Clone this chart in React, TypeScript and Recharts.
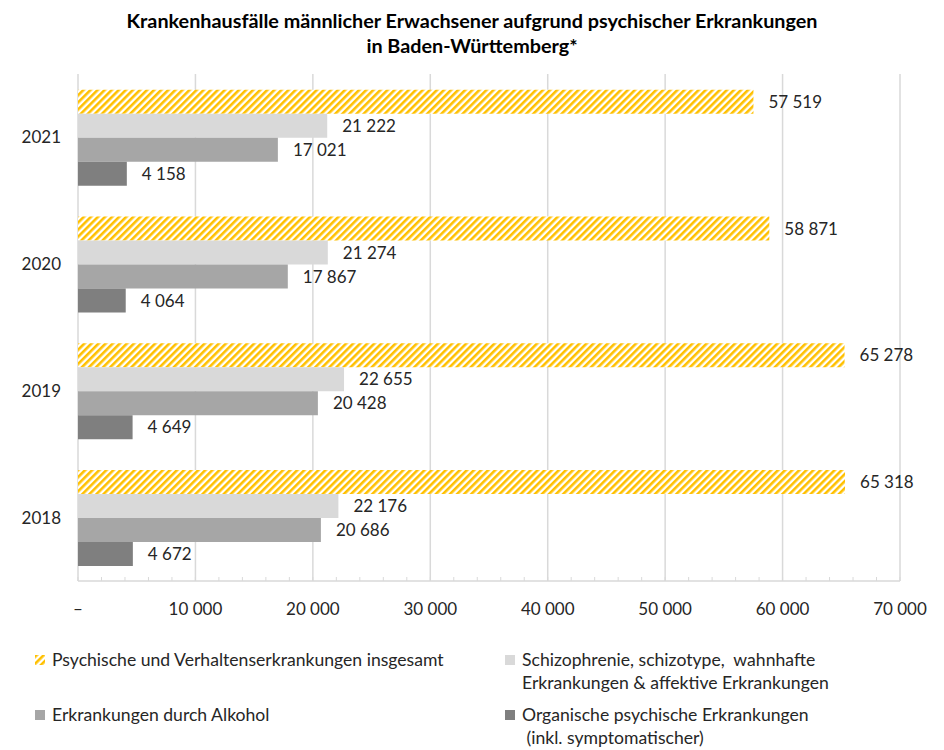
import React from "react";
import { BarChart, Bar, XAxis, YAxis, CartesianGrid, LabelList } from "recharts";

const years = ["2021", "2020", "2019", "2018"];
const insgesamt = [57519, 58871, 65278, 65318];
const schizo = [21222, 21274, 22655, 22176];
const alkohol = [17021, 17867, 20428, 20686];
const organisch = [4158, 4064, 4649, 4672];

const seriesNames = [
  "Psychische und Verhaltenserkrankungen insgesamt",
  "Schizophrenie, schizotype,  wahnhafte\nErkrankungen & affektive Erkrankungen",
  "Erkrankungen durch Alkohol",
  "Organische psychische Erkrankungen\n (inkl. symptomatischer)",
];

const xMax = 70000;
const majorStep = 10000;
const minorStep = 2000;
const xTicks: number[] = [];
for (let v = 0; v <= xMax; v += minorStep) xTicks.push(v);

const data = years.map((y, i) => ({
  year: y,
  insgesamt: insgesamt[i],
  schizo: schizo[i],
  alkohol: alkohol[i],
  organisch: organisch[i],
}));

const FONT = "Lato, 'Open Sans', sans-serif";
const TEXT = "#262626";
const YELLOW = "#ffc000";
const LIGHT = "#d9d9d9";
const MID = "#a6a6a6";
const DARK = "#7f7f7f";

const fmt = (v: any) => String(v).replace(/\B(?=(\d{3})+(?!\d))/g, " ");
const tickFmt = (v: number) => (v % majorStep === 0 ? (v === 0 ? "–" : fmt(v)) : "");

const gridLine = (props: any) => {
  if (props.index % (majorStep / minorStep) !== 0) return <g key={props.key} />;
  return (
    <line
      key={props.key}
      x1={props.x1}
      x2={props.x2}
      y1={props.y1}
      y2={props.y2}
      stroke={LIGHT}
      strokeWidth={1.5}
    />
  );
};

const HatchIcon = () => (
  <svg width={10} height={10} style={{ display: "block" }}>
    <defs>
      <pattern id="hatchIcon" patternUnits="userSpaceOnUse" width={5} height={5} patternTransform="rotate(45)">
        <rect width={5} height={5} fill="#fff" />
        <rect width={2.6} height={5} fill={YELLOW} />
      </pattern>
    </defs>
    <rect width={10} height={10} fill="url(#hatchIcon)" />
  </svg>
);

const Box = ({ color }: { color: string }) => (
  <div style={{ width: 10, height: 10, background: color }} />
);

const LegendItem = ({ left, top, icon, text }: { left: number; top: number; icon: React.ReactNode; text: string }) => (
  <div style={{ position: "absolute", left, top, display: "flex", alignItems: "flex-start" }}>
    <div style={{ marginTop: 7, width: 17 }}>{icon}</div>
    <div style={{ whiteSpace: "pre", fontSize: 17.6, lineHeight: "23px", color: TEXT }}>{text}</div>
  </div>
);

export default function App() {
  return (
    <div style={{ position: "relative", width: 928, height: 742, fontFamily: FONT, background: "#fff" }}>
      <div
        style={{
          position: "absolute",
          left: 0,
          top: 0,
          width: 928,
          textAlign: "center",
          fontWeight: 700,
          fontSize: 19.8,
          lineHeight: "25px",
          color: "#000",
        }}
      >
        Krankenhausfälle männlicher Erwachsener aufgrund psychischer Erkrankungen
        <br />
        in Baden-Württemberg*
      </div>
      <div style={{ position: "absolute", left: 0, top: 0 }}>
        <BarChart
          width={928}
          height={620}
          data={data}
          layout="vertical"
          margin={{ top: 66, right: 36, bottom: 7, left: 10 }}
          barCategoryGap="12.5%"
          barGap={0}
        >
          <defs>
            <pattern id="hatch" patternUnits="userSpaceOnUse" width={5} height={5} patternTransform="rotate(45)">
              <rect width={5} height={5} fill="#fff" />
              <rect width={2.6} height={5} fill={YELLOW} />
            </pattern>
          </defs>
          <CartesianGrid horizontal={false} vertical={gridLine} />
          <XAxis
            type="number"
            domain={[0, xMax]}
            ticks={xTicks}
            interval={0}
            tickFormatter={tickFmt}
            tickSize={-4}
            tickMargin={26}
            tickLine={{ stroke: LIGHT }}
            axisLine={{ stroke: LIGHT, strokeWidth: 1.5 }}
            tick={{ fill: TEXT, fontSize: 17, fontFamily: FONT }}
            height={40}
          />
          <YAxis
            type="category"
            dataKey="year"
            width={60}
            axisLine={false}
            tickLine={false}
            tickSize={0}
            tickMargin={17}
            tick={{ fill: TEXT, fontSize: 17, fontFamily: FONT }}
          />
          <Bar dataKey="insgesamt" fill="url(#hatch)" isAnimationActive={false}>
            <LabelList dataKey="insgesamt" position="right" offset={15} formatter={fmt} fill={TEXT} fontSize={17} fontFamily={FONT} />
          </Bar>
          <Bar dataKey="schizo" fill={LIGHT} isAnimationActive={false}>
            <LabelList dataKey="schizo" position="right" offset={15} formatter={fmt} fill={TEXT} fontSize={17} fontFamily={FONT} />
          </Bar>
          <Bar dataKey="alkohol" fill={MID} isAnimationActive={false}>
            <LabelList dataKey="alkohol" position="right" offset={15} formatter={fmt} fill={TEXT} fontSize={17} fontFamily={FONT} />
          </Bar>
          <Bar dataKey="organisch" fill={DARK} isAnimationActive={false}>
            <LabelList dataKey="organisch" position="right" offset={15} formatter={fmt} fill={TEXT} fontSize={17} fontFamily={FONT} />
          </Bar>
        </BarChart>
      </div>
      <LegendItem left={27} top={640} icon={<HatchIcon />} text={seriesNames[0]} />
      <LegendItem left={497} top={640} icon={<Box color={LIGHT} />} text={seriesNames[1]} />
      <LegendItem left={27} top={695} icon={<Box color={MID} />} text={seriesNames[2]} />
      <LegendItem left={497} top={695} icon={<Box color={DARK} />} text={seriesNames[3]} />
    </div>
  );
}
